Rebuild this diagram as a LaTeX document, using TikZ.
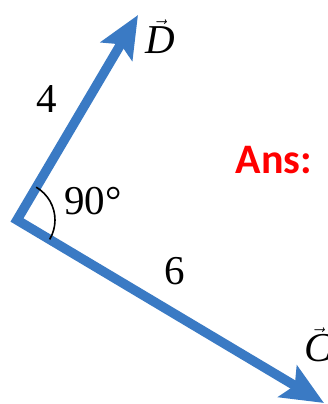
\documentclass[tikz,border=0pt]{standalone}
\usepackage{fontspec}
\setmainfont{Liberation Serif}
\newfontfamily\ansfont{Carlito}
\usetikzlibrary{arrows.meta,calc}
\definecolor{vecblue}{RGB}{58,122,196}
\definecolor{ansred}{RGB}{255,0,0}
\begin{document}
\begin{tikzpicture}[x=1pt,y=-1pt,
  vecline/.style={draw=vecblue,line width=9.5pt,line join=miter,
    {Stealth[length=42pt,width=36pt,inset=8pt]}-{Stealth[length=42pt,width=36pt,inset=8pt]}},
  num/.style={font=\fontsize{41}{48}\selectfont,inner sep=0pt},
  anslabel/.style={font=\ansfont\bfseries\fontsize{42}{48}\selectfont,text=ansred,inner sep=0pt}]
\useasboundingbox (0,0) rectangle (327,404);
\clip (0,0) rectangle (327,404);
\fill[white] (0,0) rectangle (327,404);
\coordinate (O) at (17,220);
\coordinate (Dt) at (138,15);
\coordinate (Ct) at (324,403);
\draw[vecline] (Dt) -- (O) -- (Ct);
\draw[line width=1.6pt] ($(O)+(-59.7:38)$) arc[start angle=-59.7,end angle=30.7,radius=38];
\node[num] (four) at (47,99) {4};
\node[num] (six) at (175,271) {6};
\node[num] (ang) at (93,201) {90°};
\node[num] (Dl) at (160,37) {$\vec{\textit{D}}$};
\node[num,anchor=west] (Cl) at (304,345) {$\vec{\textit{C}}$};
\node[anslabel] (ans) at (274,160) {Ans:};
\end{tikzpicture}
\end{document}
